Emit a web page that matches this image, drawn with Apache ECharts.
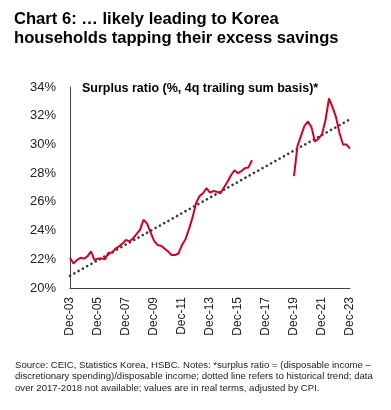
<!DOCTYPE html>
<html>
<head>
<meta charset="utf-8">
<script src="https://cdn.jsdelivr.net/npm/echarts@6/dist/echarts.min.js"></script>
<style>
html,body{margin:0;padding:0;background:#fff;}
#chart{width:391px;height:410px;}
</style>
</head>
<body>
<div id="chart"></div>
<script>
// Quarterly categories Dec-03 .. Dec-23
var monthNames = ["Mar", "Jun", "Sep", "Dec"];
var categories = ["Dec-03"];
for (var y = 2004; y <= 2023; y++) {
  for (var m = 0; m < 4; m++) {
    categories.push(monthNames[m] + "-" + String(y).slice(2));
  }
}
// Surplus ratio, Dec-03 .. Dec-16
var surplusPart1 = [22.1, 21.7, 21.95, 22.1, 22.05, 22.2, 22.55, 21.95, 22.05, 22.05,
  22.0, 22.45, 22.45, 22.75, 22.9, 23.1, 23.35, 23.25, 23.45, 23.75,
  24.05, 24.75, 24.5, 23.9, 23.3, 23.0, 22.95, 22.75, 22.55, 22.3,
  22.3, 22.4, 23.0, 23.4, 24.1, 24.9, 25.9, 26.4, 26.6, 26.95,
  26.65, 26.75, 26.7, 26.6, 27.0, 27.4, 27.85, 28.2, 28.0, 28.15,
  28.35, 28.4, 28.9];
// Mar-17 .. Sep-19 not available
var missingQuarters = 11;
// Surplus ratio, Dec-19 .. Dec-23
var surplusPart2 = [27.8, 29.9, 30.6, 31.3, 31.6, 31.2, 30.2, 30.4, 30.7, 31.7,
  33.2, 32.6, 31.9, 30.8, 30.0, 30.0, 29.7];
// Historical trend endpoints (Dec-03, Dec-23)
var trendStart = 20.85;
var trendEnd = 31.75;
var yTicks = { min: 20, max: 34, interval: 2 };

var surplus = surplusPart1.slice();
for (var i = 0; i < missingQuarters; i++) surplus.push(null);
surplus = surplus.concat(surplusPart2);

var trend = categories.map(function (c, i) {
  if (i === 0) return trendStart;
  if (i === categories.length - 1) return trendEnd;
  return null;
});

var chart = echarts.init(document.getElementById('chart'), null, { renderer: 'canvas' });
var font = "'Liberation Sans', Arial, sans-serif";
chart.setOption({
  animation: false,
  backgroundColor: '#fff',
  title: {
    text: "Chart 6: \u2026 likely leading to Korea\nhouseholds tapping their excess savings",
    left: 14, top: 10, padding: 0,
    textStyle: { fontFamily: font, fontSize: 16.6, fontWeight: 'bold', color: '#000', lineHeight: 19 }
  },
  grid: { left: 70, right: 41, top: 87, bottom: 122 },
  xAxis: {
    type: 'category',
    data: categories,
    boundaryGap: false,
    axisLine: { lineStyle: { color: '#404040', width: 1 } },
    axisTick: { show: false },
    axisLabel: {
      interval: 7, rotate: 90, margin: 9,
      fontFamily: font, fontSize: 12, color: '#222'
    },
    splitLine: { show: false }
  },
  yAxis: {
    type: 'value',
    min: yTicks.min, max: yTicks.max, interval: yTicks.interval,
    axisLine: { show: true, lineStyle: { color: '#404040', width: 1 } },
    axisTick: { show: false },
    axisLabel: { formatter: '{value}%', margin: 14, fontFamily: font, fontSize: 13, color: '#222' },
    splitLine: { show: false }
  },
  series: [
    {
      type: 'line',
      data: trend,
      connectNulls: true,
      symbol: 'none',
      lineStyle: { color: '#3a3a3a', width: 2.6, type: [0.1, 4.8], cap: 'round' },
      z: 2
    },
    {
      type: 'line',
      data: surplus,
      connectNulls: false,
      symbol: 'none',
      lineStyle: { color: '#d4001f', width: 2 },
      z: 3
    }
  ],
  graphic: [
    {
      type: 'text', left: 82, top: 82,
      style: { text: 'Surplus ratio (%, 4q trailing sum basis)*', font: 'bold 12.5px ' + font, fill: '#000' }
    },
    {
      type: 'text', left: 15, top: 359,
      style: {
        text: 'Source: CEIC, Statistics Korea, HSBC. Notes: *surplus ratio = (disposable income \u2013\ndiscretionary spending)/disposable income; dotted line refers to historical trend; data\nover 2017-2018 not available; values are in real terms, adjusted by CPI.',
        font: '9.6px ' + font, fill: '#222', lineHeight: 11.7
      }
    }
  ]
});
</script>
</body>
</html>
